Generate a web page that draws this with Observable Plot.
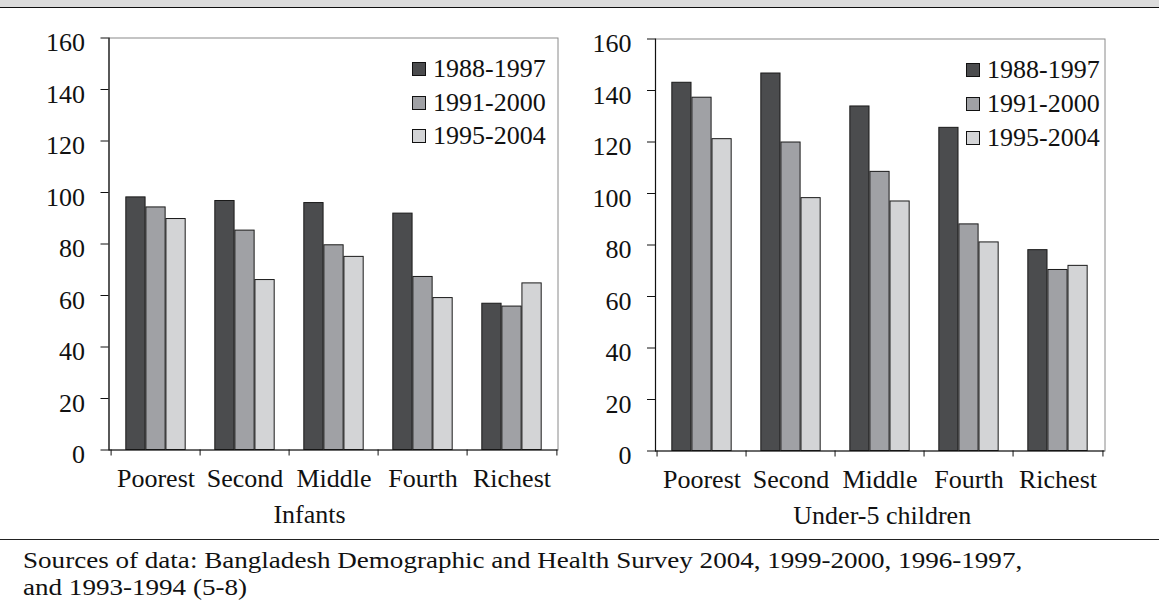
<!DOCTYPE html>
<html>
<head>
<meta charset="utf-8">
<script src="https://cdn.jsdelivr.net/npm/d3@7"></script>
<script src="https://cdn.jsdelivr.net/npm/@observablehq/plot@0.6"></script>
<style>
  html, body { margin: 0; padding: 0; background: #fff; }
  #root { position: relative; width: 1159px; height: 603px; overflow: hidden; font-family: "Liberation Serif", serif; color: #111; }
  .band { position: absolute; left: 0; top: 0; width: 1159px; height: 7px; background: #dcdcdc; border-bottom: 1.5px solid #111; }
  .rule { position: absolute; left: 0; top: 538.5px; width: 1159px; height: 0; border-top: 1px solid #222; }
  .caption { position: absolute; left: 23px; top: 547px; font-size: 24px; line-height: 26.6px; white-space: nowrap; transform: scaleX(1.128); transform-origin: 0 0; }
  .chart { position: absolute; top: 0; }
  .legend { position: absolute; font-size: 26px; }
  .legend .row { position: absolute; left: 0; display: flex; align-items: center; white-space: nowrap; height: 26px; }
  .legend .sw { width: 12px; height: 12px; border: 1px solid #111; margin-right: 7px; flex: none; }
</style>
</head>
<body>
<div id="root">
  <div class="band"></div>
  <div class="rule"></div>
  <div class="caption" id="caption"></div>
</div>
<script>
// ---- data ----
const categories = ["Poorest", "Second", "Middle", "Fourth", "Richest"];
const series = ["1988-1997", "1991-2000", "1995-2004"];
const yTicks = [0, 20, 40, 60, 80, 100, 120, 140, 160];

const infants1988 = [98.1, 96.7, 95.9, 91.8, 56.8];
const infants1991 = [94.2, 85.2, 79.5, 67.2, 55.7];
const infants1995 = [89.7, 66.0, 75.0, 59.0, 64.7];

const under5_1988 = [143.0, 146.6, 133.8, 125.5, 78.0];
const under5_1991 = [137.2, 119.8, 108.4, 88.0, 70.3];
const under5_1995 = [121.1, 98.2, 96.9, 81.0, 71.9];

const titles = ["Infants", "Under-5 children"];
const captionLines = [
  "Sources of data: Bangladesh Demographic and Health Survey 2004, 1999-2000, 1996-1997,",
  "and 1993-1994 (5-8)"
];
const colors = ["#4b4c4e", "#a0a1a5", "#d3d4d6"];

function toRows(arrs) {
  const rows = [];
  series.forEach((s, si) => categories.forEach((c, ci) => rows.push({cat: c, series: s, value: arrs[si][ci]})));
  return rows;
}

function chart(rows, title, cfg) {
  const plotW = cfg.width - cfg.marginLeft - cfg.marginRight;
  const bw = plotW / categories.length;
  const gap = bw * 0.165;
  const barW = (bw - 2 * gap) / series.length;
  const marks = [
    Plot.frame({stroke: "#8a8a8a"}),
    ...series.map((s, i) => Plot.barY(rows.filter(d => d.series === s), {
      x: "cat", y: "value", fill: "series", stroke: "#1a1a1a", strokeWidth: 1,
      insetLeft: gap + i * barW, insetRight: bw - gap - (i + 1) * barW
    })),
    Plot.ruleY([0], {stroke: "#111", strokeWidth: 1.2}),
    Plot.frame({anchor: "left", stroke: "#111", strokeWidth: 1.2}),
    Plot.axisY({ticks: yTicks, tickSize: 8, tickFormat: () => "", label: null}),
    Plot.axisY({ticks: yTicks, tickSize: 0, tickPadding: 24, dy: 5, label: null}),
    Plot.axisX({tickSize: 0, tickPadding: 19, label: null}),
    Plot.axisX({tickSize: 6, dx: -bw / 2, tickFormat: () => "", label: null}),
    Plot.axisX({ticks: [categories[categories.length - 1]], tickSize: 6, dx: bw / 2, tickFormat: () => "", label: null}),
    Plot.text([title], {frameAnchor: "bottom", text: d => d, lineAnchor: "middle", dy: 65, dx: cfg.titleDx})
  ];
  return Plot.plot({
    width: cfg.width, height: 540,
    marginTop: cfg.marginTop, marginBottom: 540 - cfg.bottom,
    marginLeft: cfg.marginLeft, marginRight: cfg.marginRight,
    style: {fontFamily: "Liberation Serif", fontSize: "26px", color: "#111", background: "transparent", overflow: "visible"},
    x: {domain: categories, padding: 0, axis: null},
    y: {domain: [0, 160], axis: null},
    color: {domain: series, range: colors},
    marks
  });
}

const root = document.getElementById("root");
const cfgs = [
  {left: 0, width: 580, marginTop: 37.5, bottom: 449.5, marginLeft: 108.5, marginRight: 22.5, titleDx: -24,
   legend: {x: 412, y: [69, 102.7, 136.3]}},
  {left: 580, width: 579, marginTop: 38.5, bottom: 450.5, marginLeft: 75, marginRight: 54.5, titleDx: 2,
   legend: {x: 966, y: [70, 104, 138.3]}}
];
const datasets = [
  toRows([infants1988, infants1991, infants1995]),
  toRows([under5_1988, under5_1991, under5_1995])
];

cfgs.forEach((cfg, k) => {
  const wrap = document.createElement("div");
  wrap.className = "chart";
  wrap.style.left = cfg.left + "px";
  wrap.appendChild(chart(datasets[k], titles[k], cfg));
  root.appendChild(wrap);

  const lg = document.createElement("div");
  lg.className = "legend";
  lg.style.left = cfg.legend.x + "px";
  lg.style.top = "0px";
  series.forEach((s, i) => {
    const row = document.createElement("div");
    row.className = "row";
    row.style.top = (cfg.legend.y[i] - 13) + "px";
    const sw = document.createElement("span");
    sw.className = "sw";
    sw.style.background = colors[i];
    const t = document.createElement("span");
    t.textContent = s;
    row.appendChild(sw);
    row.appendChild(t);
    lg.appendChild(row);
  });
  root.appendChild(lg);
});

const cap = document.getElementById("caption");
captionLines.forEach(line => {
  const d = document.createElement("div");
  d.textContent = line;
  cap.appendChild(d);
});
</script>
</body>
</html>
